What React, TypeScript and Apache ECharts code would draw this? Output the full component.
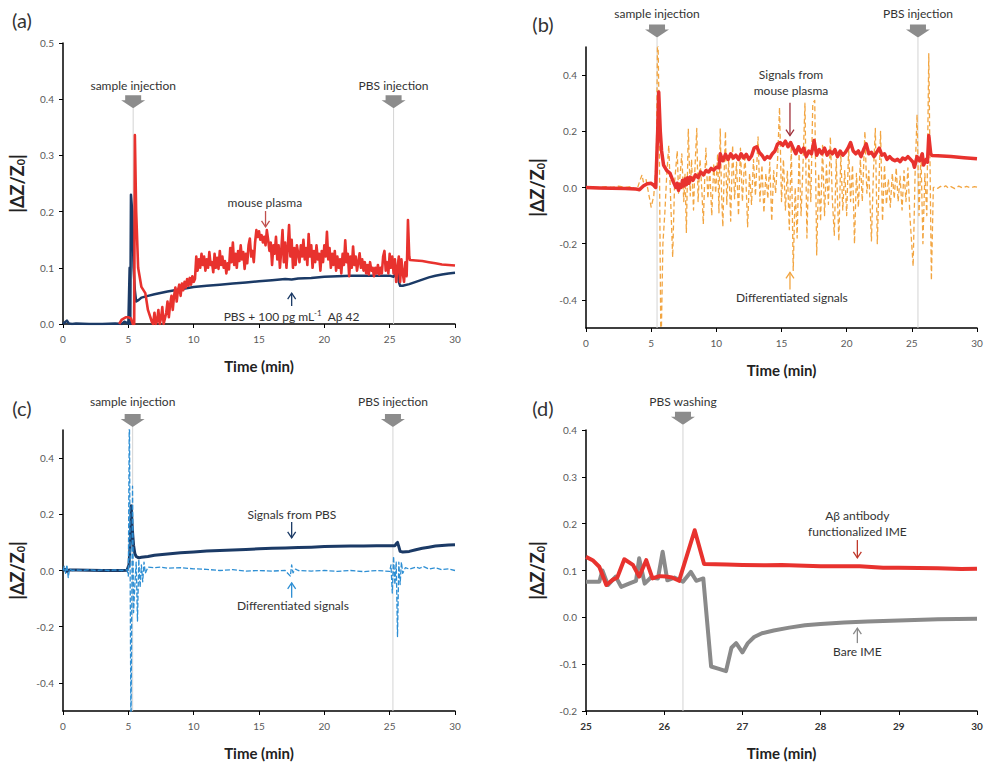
import React, { useEffect, useRef } from "react";
import * as echarts from "echarts";

// ---------- data (time in min, |ΔZ/Z0|) ----------
const plasmaA: number[][] = [
  [4.3,0],[4.5,0.008],[4.8,0.012],[5.0,0.012],[5.2,0.01],[5.35,0.0],[5.45,0.0],[5.5,0.336],[5.6,0.2],[5.75,0.1],[6.0,0.066],[6.3,0.055],[6.5,0.025],[6.8,0.004],[6.9,0.0],[7.0,0.02],[7.1,0.0],[7.2,0.005],[7.3,0.025],[7.4,0.0],[7.5,0.01],[7.6,0.03],[7.7,0.0],[7.8,0.01],[7.9,0.02],[8.0,0.04],[8.1,0.012],[8.2,0.035],[8.3,0.05],[8.4,0.025],[8.5,0.05],[8.6,0.065],[8.7,0.04],[8.8,0.06],[8.9,0.07],[9.0,0.05],[9.1,0.072],[9.2,0.06],[9.3,0.075],[9.4,0.065],[9.5,0.08],[9.6,0.068],[9.7,0.082],[9.8,0.07],[9.9,0.085],[10.0,0.075],[10.1,0.08],[10.2,0.12],[10.3,0.095],[10.4,0.115],[10.5,0.1],[10.6,0.125],[10.7,0.105],[10.8,0.12],[10.9,0.095],[11.0,0.115],[11.1,0.1],[11.2,0.128],[11.3,0.105],[11.4,0.11],[11.5,0.092],[11.6,0.125],[11.7,0.1],[11.8,0.118],[11.9,0.098],[12.0,0.13],[12.1,0.105],[12.2,0.12],[12.3,0.1],[12.4,0.112],[12.5,0.09],[12.6,0.108],[12.7,0.097],[12.8,0.135],[12.9,0.11],[13.0,0.145],[13.1,0.105],[13.2,0.125],[13.3,0.1],[13.4,0.13],[13.5,0.112],[13.6,0.14],[13.7,0.115],[13.8,0.128],[13.9,0.098],[14.0,0.125],[14.1,0.108],[14.2,0.14],[14.3,0.152],[14.4,0.12],[14.5,0.13],[14.6,0.11],[14.7,0.145],[14.8,0.167],[14.9,0.155],[15.0,0.165],[15.1,0.15],[15.2,0.158],[15.3,0.145],[15.4,0.155],[15.5,0.14],[15.6,0.167],[15.7,0.15],[15.8,0.13],[15.9,0.145],[16.0,0.105],[16.1,0.14],[16.2,0.125],[16.3,0.155],[16.4,0.115],[16.5,0.14],[16.6,0.1],[16.7,0.13],[16.8,0.167],[16.9,0.11],[17.0,0.145],[17.1,0.1],[17.2,0.135],[17.3,0.176],[17.4,0.12],[17.5,0.15],[17.6,0.1],[17.7,0.135],[17.8,0.105],[17.9,0.14],[18.0,0.125],[18.1,0.11],[18.2,0.14],[18.3,0.12],[18.4,0.15],[18.5,0.115],[18.6,0.135],[18.7,0.105],[18.8,0.16],[18.9,0.12],[19.0,0.14],[19.1,0.1],[19.2,0.13],[19.3,0.11],[19.4,0.14],[19.5,0.115],[19.6,0.125],[19.7,0.095],[19.8,0.13],[19.9,0.11],[20.0,0.14],[20.1,0.12],[20.2,0.164],[20.3,0.115],[20.4,0.135],[20.5,0.1],[20.6,0.125],[20.7,0.105],[20.8,0.13],[20.9,0.095],[21.0,0.12],[21.1,0.1],[21.2,0.115],[21.3,0.09],[21.4,0.125],[21.5,0.105],[21.6,0.149],[21.7,0.11],[21.8,0.125],[21.9,0.085],[22.0,0.12],[22.1,0.1],[22.2,0.138],[22.3,0.105],[22.4,0.12],[22.5,0.095],[22.6,0.11],[22.7,0.126],[22.8,0.1],[22.9,0.115],[23.0,0.095],[23.1,0.11],[23.2,0.09],[23.3,0.105],[23.4,0.088],[23.5,0.11],[23.6,0.095],[23.7,0.1],[23.8,0.085],[23.9,0.1],[24.0,0.09],[24.1,0.105],[24.2,0.088],[24.3,0.1],[24.4,0.09],[24.5,0.12],[24.6,0.13],[24.7,0.095],[24.8,0.11],[24.9,0.09],[25.0,0.125],[25.1,0.1],[25.2,0.12],[25.3,0.09],[25.4,0.115],[25.5,0.075],[25.6,0.1],[25.7,0.12],[25.8,0.075],[25.9,0.115],[26.0,0.09],[26.1,0.075],[26.2,0.11],[26.3,0.085],[26.4,0.185],[26.5,0.12],[26.55,0.114],[27,0.113],[27.5,0.112],[28,0.11],[28.5,0.108],[29,0.106],[29.5,0.105],[30,0.104],
];
const pbsA: number[][] = [
  [0,0.0],[0.15,0.003],[0.3,0.006],[0.45,0.001],[0.7,0.0],[1,0.001],[2,0.0],[3,0.0],[4,0.001],[4.5,0.0],[4.7,0.004],[4.9,0.002],[5.0,0.0],[5.1,0.1],[5.15,0.0],[5.2,0.23],[5.3,0.2],[5.4,0.1],[5.5,0.06],[5.6,0.04],[5.8,0.043],[6.0,0.047],[6.5,0.05],[7,0.053],[8,0.058],[9,0.062],[10,0.066],[11,0.068],[12,0.07],[13,0.072],[14,0.074],[15,0.076],[16,0.078],[17,0.08],[17.5,0.079],[18,0.081],[19,0.082],[20,0.084],[21,0.085],[22,0.086],[23,0.086],[24,0.086],[25,0.086],[25.3,0.084],[25.5,0.09],[25.6,0.1],[25.7,0.075],[25.8,0.068],[26,0.068],[26.5,0.071],[27,0.075],[27.5,0.079],[28,0.083],[28.5,0.086],[29,0.088],[29.5,0.09],[30,0.091],
];
const plasmaB: number[][] = [
  [0,0.0],[1,-0.002],[2,-0.003],[3,-0.004],[3.8,-0.005],[4.1,-0.008],[4.4,0.005],[4.7,0.013],[5.0,0.015],[5.2,0.008],[5.35,0.0],[5.5,0.2],[5.58,0.34],[5.7,0.2],[5.8,0.13],[5.95,0.08],[6.2,0.06],[6.45,0.05],[6.7,0.02],[6.9,0.0],[7.0,0.015],[7.1,-0.01],[7.2,0.01],[7.3,0.0],[7.4,0.025],[7.5,0.005],[7.6,0.03],[7.7,0.01],[7.8,0.035],[7.9,0.015],[8.0,0.037],[8.2,0.025],[8.4,0.045],[8.6,0.035],[8.8,0.055],[9.0,0.045],[9.2,0.06],[9.4,0.055],[9.6,0.068],[9.8,0.062],[10.0,0.072],[10.2,0.07],[10.3,0.12],[10.5,0.095],[10.7,0.118],[10.9,0.1],[11.1,0.12],[11.3,0.105],[11.5,0.115],[11.7,0.1],[11.9,0.12],[12.1,0.105],[12.3,0.118],[12.5,0.1],[12.7,0.112],[12.9,0.14],[13.1,0.145],[13.3,0.125],[13.5,0.115],[13.7,0.1],[13.9,0.11],[14.1,0.105],[14.3,0.12],[14.5,0.13],[14.7,0.155],[14.9,0.16],[15.1,0.15],[15.3,0.165],[15.5,0.145],[15.7,0.16],[15.9,0.14],[16.1,0.12],[16.3,0.145],[16.5,0.125],[16.7,0.14],[16.9,0.11],[17.1,0.13],[17.3,0.12],[17.5,0.167],[17.7,0.115],[17.9,0.135],[18.1,0.12],[18.3,0.14],[18.5,0.115],[18.7,0.13],[18.9,0.12],[19.1,0.135],[19.3,0.11],[19.5,0.13],[19.7,0.115],[19.9,0.125],[20.1,0.14],[20.3,0.16],[20.5,0.13],[20.7,0.12],[20.9,0.13],[21.1,0.11],[21.3,0.135],[21.5,0.155],[21.7,0.12],[21.9,0.125],[22.1,0.11],[22.3,0.125],[22.5,0.14],[22.7,0.115],[22.9,0.12],[23.1,0.1],[23.3,0.11],[23.5,0.1],[23.7,0.095],[23.9,0.1],[24.1,0.092],[24.3,0.105],[24.5,0.1],[24.7,0.11],[24.9,0.1],[25.1,0.09],[25.2,0.072],[25.4,0.11],[25.6,0.095],[25.8,0.12],[25.9,0.08],[26.1,0.1],[26.2,0.09],[26.3,0.185],[26.45,0.12],[26.55,0.114],[27,0.113],[28,0.11],[29,0.106],[30,0.102],
];
const diffB: number[][] = [
  [0,0.0],[0.5,0.002],[1,0.0],[1.5,0.003],[2,0.0],[2.5,0.005],[3,0.0],[3.5,0.004],[3.9,-0.01],[4.1,0.02],[4.3,0.045],[4.4,0.02],[4.6,0.03],[4.8,-0.02],[5.0,-0.07],[5.2,-0.03],[5.4,0.1],[5.5,0.6],[5.6,0.3],[5.75,-0.6],[5.9,-0.2],[6.05,-0.09],[6.2,0.05],[6.35,0.15],[6.5,-0.05],[6.65,-0.248],[6.8,0.02],[7.0,0.13],[7.1,-0.02],[7.25,0.06],[7.35,0.12],[7.5,-0.05],[7.6,0.05],[7.7,-0.16],[7.85,0.209],[8.0,-0.03],[8.1,0.1],[8.25,-0.08],[8.35,0.06],[8.5,0.21],[8.6,-0.05],[8.75,0.1],[8.9,-0.02],[9.0,-0.13],[9.1,0.02],[9.2,0.14],[9.35,-0.04],[9.5,0.06],[9.65,-0.1],[9.8,0.08],[9.95,-0.02],[10.1,0.12],[10.2,-0.09],[10.3,0.21],[10.4,-0.02],[10.5,-0.14],[10.6,0.05],[10.7,0.2],[10.8,-0.06],[10.95,0.1],[11.1,-0.12],[11.25,0.15],[11.4,-0.04],[11.55,0.09],[11.7,-0.1],[11.85,0.14],[12.0,-0.05],[12.2,0.12],[12.4,-0.14],[12.55,0.05],[12.7,-0.06],[12.85,0.1],[13.0,-0.03],[13.2,0.18],[13.35,-0.05],[13.5,0.08],[13.65,-0.09],[13.8,0.05],[13.95,-0.04],[14.1,0.09],[14.25,-0.12],[14.4,0.06],[14.55,-0.02],[14.7,0.1],[14.85,0.285],[15.0,-0.05],[15.15,0.1],[15.3,-0.08],[15.45,0.06],[15.6,-0.15],[15.75,0.15],[15.9,-0.295],[16.05,0.0],[16.2,-0.18],[16.35,0.12],[16.5,-0.1],[16.65,0.08],[16.8,0.3],[16.95,-0.18],[17.1,0.1],[17.25,-0.05],[17.4,0.3],[17.55,0.31],[17.7,-0.24],[17.85,0.05],[18.0,-0.12],[18.15,0.15],[18.3,-0.1],[18.45,0.08],[18.6,-0.06],[18.75,0.18],[18.9,-0.04],[19.05,-0.17],[19.2,0.1],[19.4,-0.19],[19.55,0.12],[19.7,-0.08],[19.85,0.06],[20.0,-0.1],[20.15,0.14],[20.3,-0.05],[20.45,0.08],[20.6,-0.2],[20.75,0.05],[20.9,-0.07],[21.05,0.1],[21.2,-0.05],[21.4,0.2],[21.55,-0.02],[21.7,0.06],[21.9,-0.19],[22.05,0.05],[22.2,0.21],[22.35,-0.2],[22.5,0.05],[22.6,0.2],[22.75,-0.12],[22.9,0.08],[23.05,-0.06],[23.2,0.03],[23.35,-0.07],[23.5,0.05],[23.65,-0.04],[23.8,0.07],[23.95,-0.05],[24.1,0.04],[24.25,-0.08],[24.4,0.06],[24.55,-0.05],[24.7,0.07],[24.85,-0.1],[25.1,-0.28],[25.25,0.05],[25.4,0.26],[25.55,-0.1],[25.7,0.12],[25.85,-0.2],[26.0,0.05],[26.15,-0.1],[26.3,0.476],[26.5,-0.33],[26.65,0.0],[26.8,0.002],[27.0,-0.003],[27.2,0.004],[27.4,0.0],[27.6,0.006],[27.8,-0.002],[28.0,0.003],[28.3,-0.004],[28.6,0.005],[28.9,-0.002],[29.2,0.004],[29.5,-0.001],[29.8,0.003],[30,0.001],
];
const pbsC: number[][] = [
  [0,0.0],[0.15,0.004],[0.3,-0.003],[0.5,0.002],[1,0.002],[2,0.001],[3,0.0],[4,0.0],[4.5,0.0],[4.9,0.001],[5.05,0.02],[5.15,0.1],[5.22,0.23],[5.3,0.15],[5.4,0.09],[5.5,0.06],[5.6,0.05],[5.8,0.045],[6.0,0.047],[6.5,0.05],[7,0.054],[8,0.059],[9,0.063],[10,0.066],[11,0.069],[12,0.071],[13,0.073],[14,0.075],[15,0.077],[16,0.079],[17,0.08],[17.5,0.081],[18,0.082],[19,0.083],[20,0.085],[21,0.086],[22,0.087],[23,0.087],[24,0.088],[25,0.088],[25.4,0.088],[25.5,0.095],[25.6,0.1],[25.7,0.085],[25.8,0.068],[26.0,0.066],[26.5,0.068],[27,0.074],[27.5,0.079],[28,0.083],[28.5,0.087],[29,0.089],[29.5,0.091],[30,0.092],
];
const diffC: number[][] = [
  [0,0.0],[0.1,0.015],[0.2,-0.01],[0.3,0.02],[0.4,-0.025],[0.5,0.005],[0.7,0.0],[1,0.002],[1.5,0.0],[2,0.003],[2.5,0.0],[3,0.002],[3.5,0.0],[4,0.002],[4.5,0.0],[4.9,0.003],[5.0,-0.02],[5.08,0.6],[5.2,-0.6],[5.32,0.3],[5.4,-0.15],[5.5,-0.05],[5.6,0.03],[5.7,-0.18],[5.8,0.04],[5.9,-0.06],[6.0,0.02],[6.1,-0.04],[6.2,0.03],[6.3,-0.01],[6.5,0.012],[7,0.01],[7.5,0.012],[8,0.008],[9,0.01],[10,0.006],[11,0.004],[12,0.0],[13,0.003],[14,-0.002],[15,0.0],[16,-0.002],[17,0.0],[17.4,-0.02],[17.5,0.02],[17.6,-0.008],[17.8,0.005],[18,0.0],[19,-0.002],[20,0.0],[21,-0.003],[22,0.0],[23,-0.004],[24,0.0],[25,-0.003],[25.1,0.02],[25.2,-0.08],[25.3,0.05],[25.4,-0.05],[25.5,0.03],[25.6,-0.235],[25.7,0.03],[25.8,-0.05],[25.9,0.03],[26.0,-0.01],[26.2,0.01],[26.5,0.005],[27,0.012],[27.3,0.008],[27.6,0.014],[28,0.005],[28.5,0.01],[29,0.003],[29.5,0.006],[30,0.0],
];
const antibodyD: number[][] = [
  [25,0.129],[25.085,0.122],[25.17,0.108],[25.26,0.069],[25.34,0.08],[25.4,0.085],[25.49,0.124],[25.6,0.112],[25.68,0.087],[25.77,0.122],[25.85,0.083],[25.94,0.088],[26.02,0.087],[26.1,0.085],[26.19,0.078],[26.39,0.186],[26.51,0.114],[26.8,0.113],[27,0.112],[27.3,0.111],[27.5,0.112],[28,0.109],[28.5,0.109],[28.8,0.106],[29,0.106],[29.5,0.105],[29.8,0.103],[30,0.104],
];
const bareD: number[][] = [
  [25,0.076],[25.17,0.076],[25.21,0.1],[25.28,0.069],[25.38,0.087],[25.45,0.065],[25.55,0.072],[25.64,0.078],[25.68,0.126],[25.75,0.072],[25.83,0.085],[25.92,0.083],[25.98,0.14],[26.04,0.079],[26.13,0.085],[26.24,0.076],[26.34,0.097],[26.41,0.078],[26.5,0.083],[26.6,-0.105],[26.7,-0.11],[26.79,-0.115],[26.86,-0.065],[26.92,-0.055],[27.0,-0.075],[27.07,-0.055],[27.15,-0.042],[27.25,-0.034],[27.4,-0.028],[27.6,-0.022],[27.8,-0.017],[28,-0.014],[28.3,-0.011],[28.6,-0.009],[29,-0.007],[29.5,-0.004],[30,-0.003],
];

// event times (min)
const eventsA = [5.37, 25.3];
const eventsB = [5.45, 25.47];
const eventsC = [5.33, 25.25];
const eventsD = [26.24];
const eventLabels = ["sample injection", "PBS injection"];

const yTicksBC = [-0.4, -0.2, 0, 0.2, 0.4];

const FONT = "Lato, 'Open Sans', 'DejaVu Sans', sans-serif";
const RED = "#e8322e";
const NAVY = "#1b3a66";
const ORANGE = "#f2a541";
const BLUE = "#2e8fd4";
const GRAY = "#8a8a8a";

export default function App() {
  const ref = useRef<HTMLDivElement>(null);
  useEffect(() => {
    if (!ref.current) return;
    const chart = echarts.init(ref.current, null, { renderer: "svg" });

    const grids = [
      { left: 63, top: 43, width: 392, height: 281 },
      { left: 586, top: 47, width: 391, height: 281 },
      { left: 63, top: 430, width: 392, height: 281 },
      { left: 586, top: 430, width: 391, height: 281 },
    ];
    const axisLine = { show: true, onZero: false, lineStyle: { color: "#000", width: 1.5 } };
    const axisTick = { show: true, length: 4, lineStyle: { color: "#000", width: 1 } };
    const xAx = (g: number, min: number, max: number, interval: number, bold = false) => ({
      type: "value", gridIndex: g, min, max, interval,
      axisLine, axisTick, splitLine: { show: false },
      axisLabel: { color: bold ? "#333" : "#595959", fontSize: 10, margin: 10, fontFamily: FONT, fontWeight: bold ? "bold" : "normal" },
      name: "Time (min)", nameLocation: "middle", nameGap: 34,
      nameTextStyle: { fontSize: 15, fontWeight: "bold", color: "#222", fontFamily: FONT },
    });
    const yName = {
      name: "|ΔZ/Z{s|0}|", nameLocation: "middle", nameRotate: 90,
      nameTextStyle: {
        fontSize: 18, fontWeight: "bold", color: "#222", fontFamily: FONT,
        rich: { s: { fontSize: 11, fontWeight: "bold", color: "#222", fontFamily: FONT, verticalAlign: "bottom", padding: [8, 0, 0, 0] } },
      },
    };
    const yLab = { color: "#595959", fontSize: 10, margin: 9, fontFamily: FONT, formatter: (v: number) => v.toFixed(1) };
    const yAxes = [
      { type: "value", gridIndex: 0, min: 0, max: 0.5, interval: 0.1, axisLine, axisTick, splitLine: { show: false }, axisLabel: yLab, ...yName, nameGap: 37 },
      { type: "value", gridIndex: 1, min: -0.5, max: 0.5, axisLine, axisTick: { ...axisTick, customValues: yTicksBC }, splitLine: { show: false }, axisLabel: { ...yLab, customValues: yTicksBC }, ...yName, nameGap: 40 },
      { type: "value", gridIndex: 2, min: -0.5, max: 0.5, axisLine, axisTick: { ...axisTick, customValues: yTicksBC }, splitLine: { show: false }, axisLabel: { ...yLab, customValues: yTicksBC }, ...yName, nameGap: 37 },
      { type: "value", gridIndex: 3, min: -0.2, max: 0.4, interval: 0.1, axisLine, axisTick, splitLine: { show: false }, axisLabel: yLab, ...yName, nameGap: 40 },
    ];
    const line = (data: number[][], idx: number, color: string, width: number, dash?: number[]) => ({
      type: "line", xAxisIndex: idx, yAxisIndex: idx, data, showSymbol: false, symbol: "none",
      lineStyle: { color, width, type: dash ? dash : "solid", join: "round" }, itemStyle: { color }, z: 2,
    });

    chart.setOption({
      animation: false,
      grid: grids,
      xAxis: [xAx(0, 0, 30, 5), xAx(1, 0, 30, 5), xAx(2, 0, 30, 5), xAx(3, 25, 30, 1, true)],
      yAxis: yAxes,
      series: [
        line(pbsA, 0, NAVY, 2.5),
        line(plasmaA, 0, RED, 2.6),
        line(diffB, 1, ORANGE, 1.3, [5, 3]),
        line(plasmaB, 1, RED, 3.5),
        line(pbsC, 2, NAVY, 3),
        line(diffC, 2, BLUE, 1.3, [5, 2]),
        line(bareD, 3, GRAY, 4),
        line(antibodyD, 3, RED, 4),
      ],
    });

    const px = (g: number, t: number, v: number) => chart.convertToPixel({ gridIndex: g } as any, [t, v]) as number[];
    const graphics: any[] = [];
    const text = (x: number, y: number, s: string, extra: any = {}) =>
      graphics.push({ type: "text", x, y, z: 10, style: { text: s, fill: "#333", fontSize: 12, fontFamily: FONT, align: "center", verticalAlign: "middle", ...extra } });
    const blockArrow = (g: number, t: number, vText: number, vBottom: number, vLineEnd: number, label: string) => {
      const [x, yb] = px(g, t, vBottom);
      const [, yt] = px(g, t, vText);
      const [, ye] = px(g, t, vLineEnd);
      graphics.push({ type: "line", z: 1, shape: { x1: x, y1: yb, x2: x, y2: ye }, style: { stroke: "#d4d4d4", lineWidth: 1 } });
      graphics.push({
        type: "polygon", z: 10,
        shape: { points: [[x - 8, yb - 13], [x + 8, yb - 13], [x + 8, yb - 8], [x + 12, yb - 8], [x, yb], [x - 12, yb - 8], [x - 8, yb - 8]] },
        style: { fill: "#8c8c8c" },
      });
      text(x, yt, label);
    };
    const thinArrow = (g: number, t: number, vTail: number, vTip: number, color: string) => {
      const [x, y1] = px(g, t, vTail);
      const [, y2] = px(g, t, vTip);
      const d = y2 > y1 ? -6 : 6;
      graphics.push({ type: "line", z: 10, shape: { x1: x, y1, x2: x, y2 }, style: { stroke: color, lineWidth: 1.3 } });
      graphics.push({ type: "polyline", z: 10, shape: { points: [[x - 4, y2 + d], [x, y2], [x + 4, y2 + d]] }, style: { stroke: color, lineWidth: 1.3, fill: "none" } });
    };
    const label = (g: number, t: number, v: number, s: string, extra: any = {}) => {
      const [x, y] = px(g, t, v);
      text(x, y, s, extra);
    };

    // (a)
    eventsA.forEach((t, i) => blockArrow(0, t, 0.4235, 0.384, 0, eventLabels[i]));
    label(0, 15.45, 0.217, "mouse plasma");
    thinArrow(0, 15.5, 0.201, 0.173, "#c0504d");
    label(0, 17.5, 0.014, "PBS + 100 pg mL{sup|-1}  Aβ 42", { rich: { sup: { fontSize: 8, fill: "#333", fontFamily: FONT, verticalAlign: "top", padding: [0, 0, 6, 0] } } });
    thinArrow(0, 17.5, 0.032, 0.055, NAVY);
    // (b)
    eventsB.forEach((t, i) => blockArrow(1, t, 0.62, 0.534, -0.5, eventLabels[i]));
    label(1, 15.73, 0.374, "Signals from\nmouse plasma", { lineHeight: 16 });
    thinArrow(1, 15.65, 0.302, 0.185, "#a0303a");
    label(1, 15.8, -0.391, "Differentiated signals");
    thinArrow(1, 15.65, -0.363, -0.302, ORANGE);
    // (c)
    eventsC.forEach((t, i) => blockArrow(2, t, 0.6, 0.511, -0.5, eventLabels[i]));
    label(2, 17.52, 0.2, "Signals from PBS");
    thinArrow(2, 17.5, 0.173, 0.116, NAVY);
    label(2, 17.6, -0.126, "Differentiated signals");
    thinArrow(2, 17.5, -0.097, -0.044, BLUE);
    // (d)
    eventsD.forEach((t) => blockArrow(3, t, 0.46, 0.411, -0.2, "PBS washing"));
    label(3, 28.47, 0.201, "Aβ antibody\nfunctionalized IME", { lineHeight: 16 });
    thinArrow(3, 28.47, 0.165, 0.127, "#c0392b");
    label(3, 28.47, -0.074, "Bare IME");
    thinArrow(3, 28.47, -0.055, -0.023, GRAY);

    // panel letters
    [["(a)", 22, 20], ["(b)", 543, 24], ["(c)", 22, 408], ["(d)", 543, 408]].forEach(([s, x, y]) =>
      text(x as number, y as number, s as string, { fontSize: 20, fill: "#333" })
    );

    chart.setOption({ graphic: graphics });
    return () => chart.dispose();
  }, []);
  return <div ref={ref} style={{ position: "absolute", left: 0, top: 0, width: 999, height: 765 }} />;
}
